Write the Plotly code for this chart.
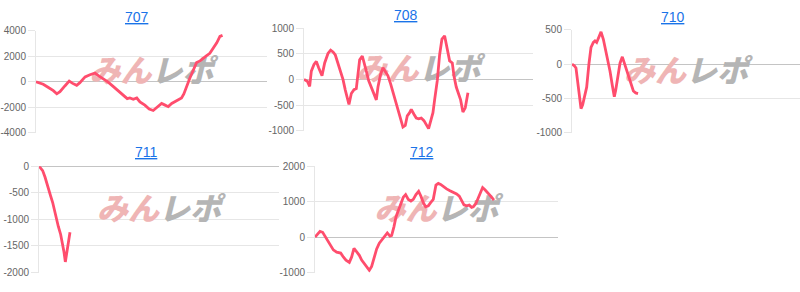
import plotly.graph_objects as go

# ---------------- data (game count vs. difference in medals) ----------------
titles = ["707", "708", "710", "711", "712"]

x_707 = [0, 250, 430, 600, 720, 830, 1000, 1150, 1270, 1410, 1520, 1700, 1870, 2040, 2160,
         2330, 2500, 2680, 2850, 3020, 3160, 3250, 3370, 3490, 3600, 3770, 3920, 4060, 4180,
         4350, 4470, 4580, 4700, 4870, 5040, 5120, 5220, 5330, 5450, 5560, 5680, 5790, 5910,
         6020, 6140, 6260, 6370, 6460]
y_707 = [0, -200, -450, -700, -950, -780, -330, 50, -130, -280, -75, 380, 550, 680, 480,
         230, -25, -380, -700, -1080, -1330, -1280, -1380, -1280, -1585, -1840, -2140, -2260,
         -2040, -1710, -1840, -1960, -1710, -1460, -1280, -960, -330, 300, 930, 1510, 1640,
         1810, 2060, 2240, 2640, 3070, 3570, 3650]

x_708 = [0, 116, 198, 256, 349, 431, 512, 629, 722, 838, 931, 1013, 1094, 1187, 1280, 1362,
         1443, 1513, 1571, 1653, 1746, 1827, 1885, 1944, 2037, 2095, 2177, 2258, 2351, 2444,
         2526, 2584, 2677, 2759, 2840, 2933, 3026, 3108, 3189, 3282, 3375, 3457, 3538, 3608,
         3690, 3748, 3841, 3922, 4004, 4097, 4190, 4272, 4353, 4446, 4505, 4563, 4656, 4737,
         4819, 4912, 4970, 5028, 5087, 5180, 5238, 5319, 5401, 5471, 5552, 5634, 5727]
y_708 = [0, -37, -137, 160, 290, 350, 225, 70, 320, 505, 570, 535, 475, 320, 160, 0, -210,
         -400, -490, -275, -200, -180, 100, 380, 455, 350, 160, -25, -150, -275, -400, -150,
         100, 225, 160, 70, -87, -245, -430, -585, -770, -930, -900, -710, -650, -585, -680,
         -755, -770, -755, -805, -900, -960, -770, -650, -400, -25, 475, 785, 850, 690, 475,
         360, 320, 70, -150, -275, -400, -635, -555, -260]

x_710 = [0, 82, 140, 199, 257, 316, 374, 433, 515, 597, 667, 749, 807, 866, 948, 1018, 1100,
         1158, 1252, 1334, 1415, 1485, 1532, 1603, 1685, 1766, 1837, 1919, 2000, 2071, 2153,
         2235, 2317]
y_710 = [0, -23, -56, -266, -500, -650, -593, -476, -336, 14, 247, 318, 341, 318, 388, 472,
         364, 247, 107, -103, -313, -476, -383, -196, 14, 107, 14, -103, -219, -313, -392,
         -420, -430]

x_711 = [0, 122, 200, 256, 311, 389, 456, 511, 567, 644, 722, 778, 833, 878, 922, 967, 1033]
y_711 = [0, -84, -204, -324, -444, -564, -684, -834, -984, -1134, -1284, -1434, -1614, -1800,
         -1614, -1434, -1242]

x_712 = [0, 77, 165, 252, 329, 406, 494, 603, 713, 845, 932, 1020, 1130, 1207, 1283, 1371,
         1459, 1536, 1613, 1700, 1788, 1865, 1942, 2030, 2117, 2227, 2304, 2380, 2468, 2523,
         2600, 2666, 2743, 2819, 2907, 2984, 3072, 3159, 3236, 3324, 3412, 3488, 3565, 3642,
         3730, 3806, 3894, 3982, 4059, 4136, 4223, 4333, 4443, 4552, 4662, 4750, 4827, 4904,
         4991, 5079, 5156, 5211, 5298, 5375, 5452, 5518, 5595, 5704, 5814, 5891]
y_712 = [0, 72, 162, 135, 27, -108, -243, -360, -423, -450, -559, -649, -712, -559, -315,
         -423, -514, -649, -739, -856, -937, -829, -559, -333, -171, -63, 27, 117, 27, 45, 297,
         568, 748, 928, 1126, 1198, 1063, 1018, 1063, 1198, 1288, 1153, 973, 856, 883, 973,
         1063, 1469, 1514, 1486, 1424, 1360, 1306, 1270, 1216, 1153, 1018, 910, 883, 901, 838,
         856, 946, 1108, 1288, 1396, 1333, 1243, 1126, 1045]

xs = [x_707, x_708, x_710, x_711, x_712]
ys = [y_707, y_708, y_710, y_711, y_712]

x_max_games = 8000
y_ticks = [
    [-4000, -2000, 0, 2000, 4000],
    [-1000, -500, 0, 500, 1000],
    [-1000, -500, 0, 500],
    [-2000, -1500, -1000, -500, 0],
    [-1000, 0, 1000, 2000],
]

# ---------------- layout (pixels) ----------------
W, H = 800, 292
# plot areas: left, right, top, bottom
boxes = [
    (36, 267, 26, 132),
    (304, 533, 23, 130),
    (572, 800, 25, 132),
    (39, 279, 167, 278),
    (315, 558, 167, 278),
]
title_pos = [(137, 11), (406, 9), (673, 11), (146, 152), (422, 152)]

LINE_COLOR = "#ff4d6d"
TICK_FONT = dict(family="Liberation Sans, Arial, sans-serif", size=10, color="#666666")
WM_TEXT = ('<span style="color:#efb5b5">みん</span>'
           '<span style="color:#b5b5b5">レポ</span>')

fig = go.Figure()
annotations = []
layout_axes = {}

for i, (title, xv, yv, ticks, box, tp) in enumerate(
        zip(titles, xs, ys, y_ticks, boxes, title_pos)):
    n = i + 1
    xa = "x" if n == 1 else f"x{n}"
    ya = "y" if n == 1 else f"y{n}"
    lo, hi = min(ticks), max(ticks)
    l, r, t, b = box

    # watermark (below the line)
    fig.add_trace(go.Scatter(
        x=[x_max_games * 0.5], y=[lo + 0.57 * (hi - lo)],
        mode="text", text=[WM_TEXT], textposition="middle center",
        textfont=dict(family="Noto Sans CJK JP", size=31, weight=900, style="italic"),
        xaxis=xa, yaxis=ya, hoverinfo="skip", showlegend=False))

    fig.add_trace(go.Scatter(
        x=xv, y=yv, mode="lines",
        line=dict(color=LINE_COLOR, width=2.8),
        xaxis=xa, yaxis=ya, showlegend=False, hoverinfo="skip"))

    layout_axes["xaxis" if n == 1 else f"xaxis{n}"] = dict(
        domain=[l / W, r / W], range=[0, x_max_games], anchor=ya,
        showgrid=False, zeroline=False, showticklabels=False, ticks="",
        showline=False, fixedrange=True)
    layout_axes["yaxis" if n == 1 else f"yaxis{n}"] = dict(
        domain=[1 - b / H, 1 - t / H], range=[lo, hi], anchor=xa,
        tickvals=ticks, ticktext=[str(v) for v in ticks],
        tickfont=TICK_FONT, ticks="outside", ticklen=7, tickcolor="#e6e6e6",
        showgrid=True, gridcolor="#e6e6e6", gridwidth=1,
        zeroline=True, zerolinecolor="#c4c4c4", zerolinewidth=1.3,
        showline=True, linecolor="#e6e6e6", linewidth=1, fixedrange=True)

    annotations.append(dict(
        text=f"<u>{title}</u>", x=tp[0] / W, y=1 - tp[1] / H,
        xref="paper", yref="paper", xanchor="center", yanchor="middle",
        showarrow=False,
        font=dict(family="Liberation Sans, Arial, sans-serif", size=14, color="#1a73e8")))

fig.update_layout(
    width=W, height=H, margin=dict(l=0, r=0, t=0, b=0),
    paper_bgcolor="white", plot_bgcolor="white",
    annotations=annotations, **layout_axes)

fig.write_html("out.html", config={"displayModeBar": False})
